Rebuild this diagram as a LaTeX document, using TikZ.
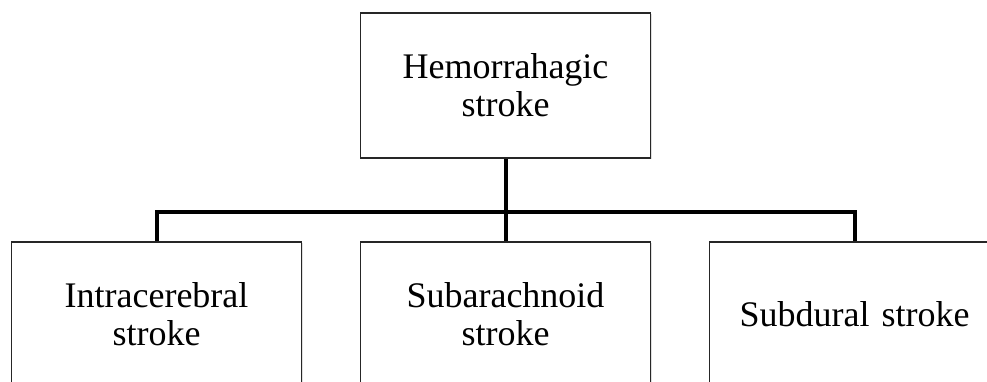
\documentclass[tikz,border=0pt]{standalone}
\usepackage{fontspec}
\setmainfont{Liberation Serif}
\usetikzlibrary{shadows}
\begin{document}
\begin{tikzpicture}[x=1pt,y=1pt,
  box/.style={draw=black!85, line width=1.5pt, fill=white,
    minimum width=290pt, minimum height=145pt, inner sep=0pt,
    text width=280pt, align=center,
    font=\fontsize{36pt}{38pt}\selectfont,
    drop shadow={shadow xshift=1.2pt, shadow yshift=-1.5pt, opacity=0.25}},
  conn/.style={draw=black, line width=4pt, line join=miter, line cap=rect}]
\useasboundingbox (0,0) rectangle (987,382);
\clip (0,0) rectangle (987,382);
\fill[white] (0,0) rectangle (987,382);
\node[box] (top) at (505.5,296.5) {Hemorrahagic\\stroke};
\node[box] (left) at (156.5,67.5) {Intracerebral\\stroke};
\node[box] (mid) at (505.5,67.5) {Subarachnoid\\stroke};
\node[box] (right) at (854.5,67.5) {Subdural stroke};
\coordinate (bus) at (0,170);
\draw[conn, line cap=butt] (top.south) -- (top.south |- bus);
\draw[conn, line cap=butt] (left.north) -- (left.north |- bus) -- (right.north |- bus) -- (right.north);
\draw[conn, line cap=butt] (mid.north |- bus) -- (mid.north);
\end{tikzpicture}
\end{document}
